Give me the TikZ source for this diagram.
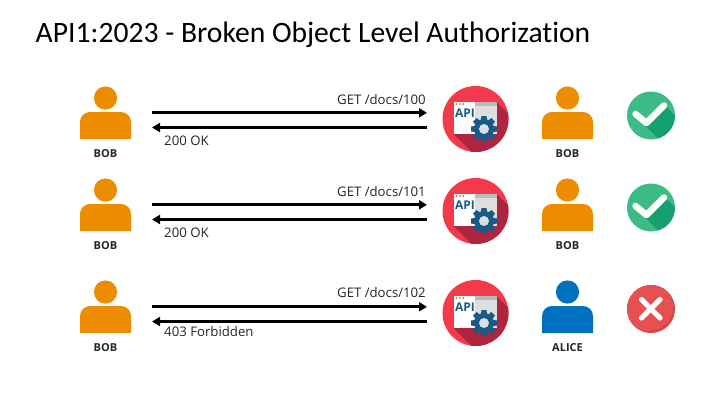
\documentclass[tikz,border=0pt]{standalone}
\usepackage{fontspec}
\setmainfont{Carlito}[Ligatures=NoCommon]
\newfontfamily\labelfont{Open Sans}
\usetikzlibrary{arrows.meta}
\definecolor{bobc}{HTML}{EE8C00}
\definecolor{alicec}{HTML}{0070C0}
\definecolor{apired}{HTML}{F23A4A}
\definecolor{apidark}{HTML}{AE2540}
\definecolor{apiblue}{HTML}{175B86}
\definecolor{okgreen}{HTML}{3CBB85}
\definecolor{okdark}{HTML}{15A06F}
\definecolor{nored}{HTML}{E55050}
\definecolor{nodark}{HTML}{D34545}
\definecolor{txt}{HTML}{262626}
\tikzset{
  x=1pt,y=-1pt,
  msgline/.style={line width=2.7pt,black,-{Triangle[length=8pt,width=9pt]}},
  msgtext/.style={font=\labelfont\fontsize{13.2}{15}\selectfont,text=txt,inner sep=0pt},
  whotext/.style={font=\labelfont\fontsize{11}{12}\selectfont\bfseries,text=txt,inner sep=0pt},
  titletext/.style={font=\fontsize{29.6}{34}\selectfont,text=black,inner sep=0pt,anchor=west},
  markthin/.style={white,line cap=round,line join=round}
}
% name, x, y (head centre), colour, label
\newcommand{\personfig}[5]{%
  \fill[#4] (#2,#3) circle (11.6);
  \fill[#4,rounded corners=10pt] (#2-25.5,#3+41) [sharp corners] -- (#2-25.5,#3+41) [rounded corners=10pt] -- (#2-25.5,#3+14) -- (#2+25.5,#3+14) [sharp corners] -- (#2+25.5,#3+41) -- cycle;
  \node[whotext] (#1) at (#2,#3+55.8) {#5};
}
% name, y centre
\newcommand{\apifig}[2]{%
  \node[circle,fill=apired,minimum size=66pt,inner sep=0pt] (#1) at (475.5,#2) {};
  \begin{scope}
    \clip (475.5,#2) circle (33);
    \fill[apidark] (453.5,#2+15) -- (496.5,#2-17) -- (536.5,#2+23) -- (493.5,#2+55) -- cycle;
  \end{scope}
  \fill[white] (453.5,#2-17) rectangle (496.5,#2+15);
  \fill[black!13] (475,#2-17) rectangle (496.5,#2+15);
  \fill[black!27] (475,#2-17) rectangle (496.5,#2-13);
  \foreach \k in {0,1,2}{\fill[orange!80!red] (456.5+\k*3.4,#2-15) circle (1);}
  \node[inner sep=0pt,text=apiblue,font=\labelfont\fontsize{12}{14}\selectfont\bfseries] at (465,#2-5.5) {API};
  \begin{scope}[shift={(484,#2+10)}]
    \fill[apiblue] (0,0) circle (10);
    \foreach \a in {0,45,...,315}{
      \fill[apiblue,rotate=\a] (-3.2,-8) -- (-2.5,-13) -- (2.5,-13) -- (3.2,-8) -- cycle;
    }
    \fill[black!13] (0,0) circle (5);
  \end{scope}
}
% name, y centre
\newcommand{\okfig}[2]{%
  \node[circle,fill=okgreen,minimum size=48pt,inner sep=0pt] (#1) at (651,#2) {};
  \begin{scope}
    \clip (651,#2) circle (24);
    \fill[okdark] (645,#2+10) -- (665,#2-10) -- (695,#2+20) -- (675,#2+40) -- cycle;
  \end{scope}
  \draw[markthin,line width=6.5pt] (635.5,#2-1.5) -- (646.5,#2+7.5) -- (664,#2-10);
}
% name, y centre
\newcommand{\nofig}[2]{%
  \node[circle,fill=nodark,minimum size=48pt,inner sep=0pt] (#1) at (651,#2) {};
  \begin{scope}
    \clip (651,#2) circle (24);
    \fill[nored] (649,#2-2) circle (24);
  \end{scope}
  \draw[markthin,line width=5.2pt] (641.5,#2-9.5) -- (660,#2+9);
  \draw[markthin,line width=5.2pt] (660,#2-9.5) -- (641.5,#2+9);
}
\begin{document}
\begin{tikzpicture}
\useasboundingbox (0,0) rectangle (720,405);
\fill[white] (0,0) rectangle (720,405);
\node[titletext] (title) at (35.5,35) {API1:2023 - Broken Object Level Authorization};

% row 1
\personfig{who1}{105.5}{98}{bobc}{BOB}
\apifig{api1}{119}
\personfig{res1}{567.5}{98}{bobc}{BOB}
\okfig{chk1}{115.5}
\coordinate (l1a) at (152,112.8); \coordinate (r1a) at (427,112.8);
\coordinate (l1b) at (152,127.5); \coordinate (r1b) at (427,127.5);
\draw[msgline] (l1a) -- (r1a);
\draw[msgline] (r1b) -- (l1b);
\node[msgtext,anchor=east] (req1) at (426,100) {GET /docs/100};
\node[msgtext,anchor=west] (rsp1) at (164,141) {200 OK};

% row 2
\personfig{who2}{105.5}{190}{bobc}{BOB}
\apifig{api2}{211}
\personfig{res2}{567.5}{190}{bobc}{BOB}
\okfig{chk2}{207.5}
\coordinate (l2a) at (152,204.8); \coordinate (r2a) at (427,204.8);
\coordinate (l2b) at (152,219.5); \coordinate (r2b) at (427,219.5);
\draw[msgline] (l2a) -- (r2a);
\draw[msgline] (r2b) -- (l2b);
\node[msgtext,anchor=east] (req2) at (426,192) {GET /docs/101};
\node[msgtext,anchor=west] (rsp2) at (164,233) {200 OK};

% row 3
\personfig{who3}{105.5}{292}{bobc}{BOB}
\apifig{api3}{313}
\personfig{res3}{567.5}{292}{alicec}{ALICE}
\nofig{chk3}{309}
\coordinate (l3a) at (152,306.8); \coordinate (r3a) at (427,306.8);
\coordinate (l3b) at (152,321.5); \coordinate (r3b) at (427,321.5);
\draw[msgline] (l3a) -- (r3a);
\draw[msgline] (r3b) -- (l3b);
\node[msgtext,anchor=east] (req3) at (426,293) {GET /docs/102};
\node[msgtext,anchor=west] (rsp3) at (164,332) {403 Forbidden};
\end{tikzpicture}
\end{document}
